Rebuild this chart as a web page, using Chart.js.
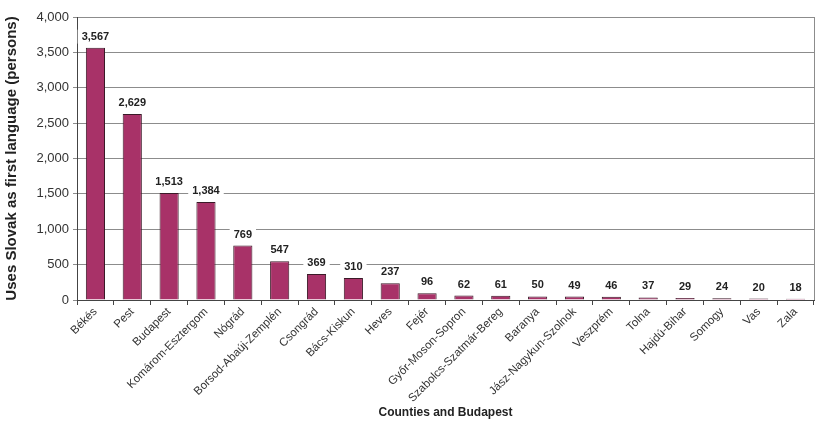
<!DOCTYPE html>
<html><head><meta charset="utf-8">
<script src="https://cdn.jsdelivr.net/npm/chart.js@4/dist/chart.umd.min.js"></script>
<style>html,body{margin:0;padding:0;background:#fff}#wrap{width:818px;height:424px}</style>
</head><body><div id="wrap"><canvas id="c"></canvas></div>
<script>
const categories = ["Békés","Pest","Budapest","Komárom-Esztergom","Nógrád","Borsod-Abaúj-Zemplén","Csongrád","Bács-Kiskun","Heves","Fejér","Győr-Moson-Sopron","Szabolcs-Szatmár-Bereg","Baranya","Jász-Nagykun-Szolnok","Veszprém","Tolna","Hajdú-Bihar","Somogy","Vas","Zala"];
const slovakSpeakers = [3567,2629,1513,1384,769,547,369,310,237,96,62,61,50,49,46,37,29,24,20,18];
const yTicks = [0,500,1000,1500,2000,2500,3000,3500,4000];

const fmt = v => v.toLocaleString('en-US');

const labelPlugin = {
  id: 'labels',
  afterDatasetsDraw(chart) {
    const ctx = chart.ctx;
    const meta = chart.getDatasetMeta(0);
    ctx.save();
    ctx.font = 'bold 11px "Liberation Sans", Arial, sans-serif';
    ctx.textAlign = 'center';
    ctx.textBaseline = 'middle';
    meta.data.forEach((bar, i) => {
      const t = fmt(slovakSpeakers[i]);
      const w = ctx.measureText(t).width;
      const y = bar.y - 11;
      ctx.fillStyle = '#fff';
      ctx.fillRect(bar.x - w/2 - 4, y - 7, w + 8, 14);
      ctx.fillStyle = '#222';
      ctx.fillText(t, bar.x, y);
    });
    const a = chart.chartArea;
    ctx.strokeStyle = '#8c8c8c';
    ctx.lineWidth = 1;
    ctx.beginPath();
    ctx.moveTo(Math.round(a.right) + 0.5, a.top);
    ctx.lineTo(Math.round(a.right) + 0.5, a.bottom);
    ctx.stroke();
    ctx.restore();
  }
};

new Chart(document.getElementById('c'), {
  type: 'bar',
  data: {
    labels: categories,
    datasets: [{
      data: slovakSpeakers,
      backgroundColor: '#A83268',
      borderColor: '#3b1a28',
      borderWidth: 1,
      categoryPercentage: 1,
      barPercentage: 0.52
    }]
  },
  options: {
    responsive: true,
    maintainAspectRatio: false,
    animation: false,
    layout: { padding: { top: 17, right: 4, left: 0, bottom: 0 } },
    plugins: { legend: { display: false }, tooltip: { enabled: false } },
    scales: {
      x: {
        grid: { offset: true, drawOnChartArea: false, tickLength: 5, color: '#444' },
        border: { color: '#444' },
        ticks: { maxRotation: 45, minRotation: 45, autoSkip: false, color: '#333',
                 font: { family: '"Liberation Sans", Arial, sans-serif', size: 11.5 }, padding: 0 },
        title: { display: true, text: 'Counties and Budapest', color: '#222',
                 font: { family: '"Liberation Sans", Arial, sans-serif', size: 12, weight: 'bold' },
                 padding: { top: 0, bottom: 4 } },
        afterFit: s => { s.height = 124; }
      },
      y: {
        min: 0, max: 4000,
        afterBuildTicks: s => { s.ticks = yTicks.map(v => ({ value: v })); },
        grid: { color: '#8c8c8c', tickLength: 4 },
        border: { color: '#444' },
        ticks: { color: '#333', padding: 4, callback: v => fmt(v),
                 font: { family: '"Liberation Sans", Arial, sans-serif', size: 13 } },
        title: { display: true, text: 'Uses Slovak as first language (persons)', color: '#222',
                 font: { family: '"Liberation Sans", Arial, sans-serif', size: 15, weight: 'bold' },
                 padding: { top: 3, bottom: 0 } },
        afterFit: s => { s.width = 77; }
      }
    }
  },
  plugins: [labelPlugin]
});
</script></body></html>
